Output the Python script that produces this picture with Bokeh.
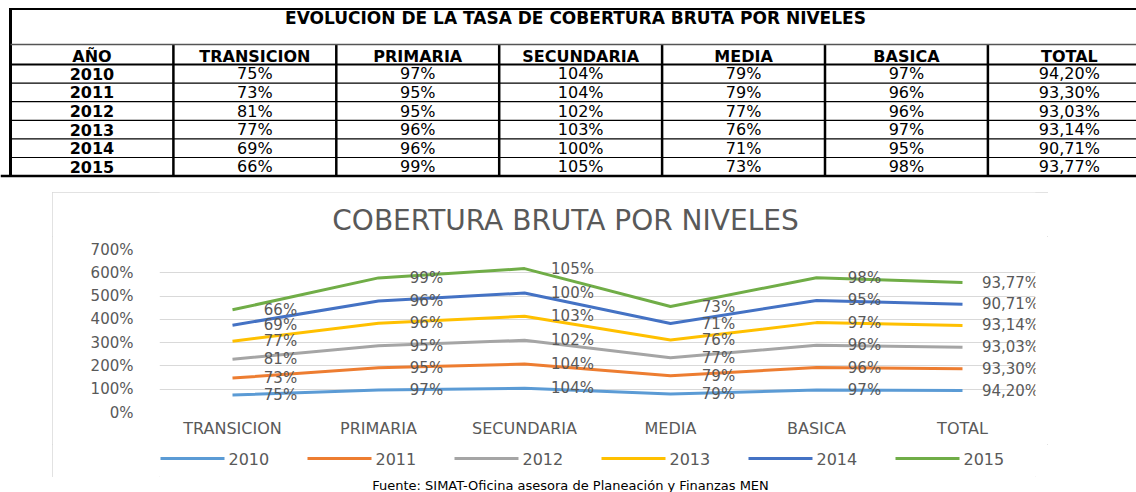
import numpy as np
from bokeh.plotting import figure
from bokeh.models import (Range1d, FactorRange, FixedTicker, PrintfTickFormatter,
                          LabelSet, ColumnDataSource, Spacer)
from bokeh.layouts import column, row
from bokeh.embed import file_html
from bokeh.resources import INLINE
from bokeh.core.properties import value

# ---------------- data ----------------
TABLE_TITLE = "EVOLUCION DE LA TASA DE COBERTURA BRUTA POR NIVELES"
CHART_TITLE = "COBERTURA BRUTA POR NIVELES"
SOURCE = "Fuente: SIMAT-Oficina asesora de Planeación y Finanzas MEN"
YEAR_HEADER = "AÑO"
levels = ["TRANSICION", "PRIMARIA", "SECUNDARIA", "MEDIA", "BASICA", "TOTAL"]
years = ["2010", "2011", "2012", "2013", "2014", "2015"]
v2010 = [75, 97, 104, 79, 97, 94.20]
v2011 = [73, 95, 104, 79, 96, 93.30]
v2012 = [81, 95, 102, 77, 96, 93.03]
v2013 = [77, 96, 103, 76, 97, 93.14]
v2014 = [69, 96, 100, 71, 95, 90.71]
v2015 = [66, 99, 105, 73, 98, 93.77]
series = [v2010, v2011, v2012, v2013, v2014, v2015]
y_ticks = [0, 100, 200, 300, 400, 500, 600, 700]

# ---------------- styles ----------------
colors = ["#5B9BD5", "#ED7D31", "#A5A5A5", "#FFC000", "#4472C4", "#70AD47"]
FONT = "DejaVu Sans"
GREY = "#595959"


def fmt(v, is_total):
    if is_total:
        return f"{v:.2f}".replace(".", ",") + "%"
    return f"{v:.0f}%"


def blank(w, h, xr, yr):
    f = figure(width=w, height=h, x_range=xr, y_range=yr, output_backend="svg",
               toolbar_location=None, min_border=0, x_axis_location=None, y_axis_location=None)
    f.grid.visible = False
    f.outline_line_color = None
    return f


# ---------------- table ----------------
PAGE_W = 1136
T_H = 178
T_LEFT = 10
COL_W = 162.9
T_TOP = 8.5
TITLE_BOTTOM = 44
HEAD_BOTTOM = 64
ROW_H = 18.6
T_BOTTOM = HEAD_BOTTOM + ROW_H * len(years)
X0, X1 = 0, PAGE_W

tab = blank(PAGE_W, T_H, Range1d(X0, X1), Range1d(T_H, 0))

headers = [YEAR_HEADER] + levels
ncol = len(headers)
edges = [T_LEFT + COL_W * i for i in range(ncol)]
centers = [e + COL_W / 2 for e in edges]

tab.segment(x0=[T_LEFT], y0=[T_TOP], x1=[T_LEFT], y1=[T_BOTTOM], line_color="black", line_width=3)
tab.segment(x0=edges[1:], y0=[TITLE_BOTTOM] * (ncol - 1), x1=edges[1:], y1=[T_BOTTOM] * (ncol - 1),
            line_color="black", line_width=2.5)
tab.segment(x0=[T_LEFT - 1.5], y0=[T_TOP], x1=[X1], y1=[T_TOP], line_color="black", line_width=2)
tab.segment(x0=[T_LEFT], y0=[TITLE_BOTTOM], x1=[X1], y1=[TITLE_BOTTOM], line_color="#555555", line_width=1.5)
tab.segment(x0=[T_LEFT], y0=[HEAD_BOTTOM], x1=[X1], y1=[HEAD_BOTTOM], line_color="black", line_width=2)
row_lines = [HEAD_BOTTOM + ROW_H * (j + 1) for j in range(len(years) - 1)]
tab.segment(x0=[T_LEFT] * len(row_lines), y0=row_lines, x1=[X1] * len(row_lines), y1=row_lines,
            line_color="black", line_width=1.2)
tab.segment(x0=[X0], y0=[T_BOTTOM], x1=[X1], y1=[T_BOTTOM], line_color="black", line_width=2.5)

tab.text(x=[575], y=[17.5], text=[TABLE_TITLE], text_align="center", text_baseline="middle",
         text_font=value(FONT), text_font_style="bold", text_font_size="17px", text_color="black")
tab.text(x=centers, y=[(TITLE_BOTTOM + HEAD_BOTTOM) / 2 + 1.5] * ncol, text=headers,
         text_align="center", text_baseline="middle", text_font=value(FONT),
         text_font_style="bold", text_font_size="16px", text_color="black")
row_y = [HEAD_BOTTOM + ROW_H * (j + 0.5) for j in range(len(years))]
tab.text(x=[centers[0]] * len(years), y=row_y, text=years, text_align="center", text_baseline="middle",
         text_font=value(FONT), text_font_style="bold", text_font_size="16px", text_color="black")
cell_x, cell_y, cell_t = [], [], []
for j, vals in enumerate(series):
    for i, v in enumerate(vals):
        cell_x.append(centers[i + 1])
        cell_y.append(row_y[j])
        cell_t.append(fmt(v, i == len(levels) - 1))
tab.text(x=cell_x, y=cell_y, text=cell_t, text_align="center", text_baseline="middle",
         text_font=value(FONT), text_font_size="16px", text_color="black")

# ---------------- chart ----------------
GAP = 14
CH_LEFT = 52
CH_W = 996
TT_H = 44          # title strip
P_H = 208          # plot strip
LG_H = 33          # legend strip
F_TOP, F_BOT = 13, 176
F_LEFT, F_RIGHT = 107, 983   # frame edges shared by the three strips (column aligns them)

# title strip (x in chart-canvas pixels, mapped onto the shared frame)
ttl = blank(CH_W, TT_H, Range1d(F_LEFT, F_RIGHT), Range1d(TT_H, 0))
ttl.min_border_left = F_LEFT
ttl.min_border_right = CH_W - F_RIGHT
ttl.text(x=[513], y=[28], text=[CHART_TITLE], text_align="center", text_baseline="middle",
         text_font=value(FONT), text_font_size="28px", text_color=GREY)

# plot strip
p = figure(width=CH_W, height=P_H, x_range=FactorRange(factors=levels, range_padding=0),
           y_range=Range1d(0, 700), output_backend="svg", toolbar_location=None,
           min_border_left=F_LEFT, min_border_right=CH_W - F_RIGHT,
           min_border_top=F_TOP, min_border_bottom=P_H - F_BOT)
p.outline_line_color = None
p.xgrid.grid_line_color = None
p.ygrid.grid_line_color = "#d9d9d9"
p.ygrid.grid_line_width = 1

p.yaxis.ticker = FixedTicker(ticks=y_ticks)
p.yaxis.formatter = PrintfTickFormatter(format="%d%%")
for ax in (p.xaxis[0], p.yaxis[0]):
    ax.axis_line_color = None
    ax.major_tick_line_color = None
    ax.minor_tick_line_color = None
    ax.major_tick_out = 0
    ax.major_tick_in = 0
    ax.minor_tick_out = 0
    ax.major_label_text_color = GREY
    ax.major_label_text_font = FONT
p.yaxis.major_label_standoff = 26
p.yaxis.major_label_text_font_size = "15px"
p.xaxis.major_label_standoff = 6
p.xaxis.major_label_text_font_size = "16px"

cum = np.cumsum(np.array(series, dtype=float), axis=0)
for k, yr in enumerate(years):
    p.line(x=levels, y=list(cum[k]), line_color=colors[k], line_width=3)
for k, yr in enumerate(years):
    src = ColumnDataSource(dict(x=levels, y=list(cum[k]),
                                t=[fmt(v, i == len(levels) - 1) for i, v in enumerate(series[k])]))
    p.add_layout(LabelSet(x="x", y="y", text="t", source=src, x_offset=48,
                          text_align="center", text_baseline="middle",
                          text_font=value(FONT), text_font_size="15px", text_color=GREY))

# legend strip (key lines + year labels)
LG_X0, LG_STEP, LG_LINE, LG_Y = 108, 147, 64, 14
lg = blank(CH_W, LG_H, Range1d(F_LEFT, F_RIGHT), Range1d(LG_H, 0))
lg.min_border_left = F_LEFT
lg.min_border_right = CH_W - F_RIGHT
key_x0 = [LG_X0 + LG_STEP * k for k in range(len(years))]
key_x1 = [x + LG_LINE for x in key_x0]
lg.segment(x0=key_x0, y0=[LG_Y] * len(years), x1=key_x1, y1=[LG_Y] * len(years),
           line_color=colors, line_width=3)
lg.text(x=[x + 4 for x in key_x1], y=[LG_Y] * len(years), text=years, text_align="left",
        text_baseline="middle", text_font=value(FONT), text_font_size="16px", text_color=GREY)

chart = column(ttl, p, lg, styles={"outline": "1px solid #d9d9d9", "outline-offset": "-1px"})

# ---------------- caption ----------------
CAP_H = 492 - T_H - GAP - (TT_H + P_H + LG_H)
cap = blank(PAGE_W, CAP_H, Range1d(X0, X1), Range1d(CAP_H, 0))
cap.text(x=[570], y=[CAP_H / 2], text=[SOURCE], text_align="center", text_baseline="middle",
         text_font=value(FONT), text_font_size="13px", text_color="black")

layout = column(tab, Spacer(height=GAP), row(Spacer(width=CH_LEFT), chart), cap)
open("out.html", "w").write(file_html(layout, INLINE))
